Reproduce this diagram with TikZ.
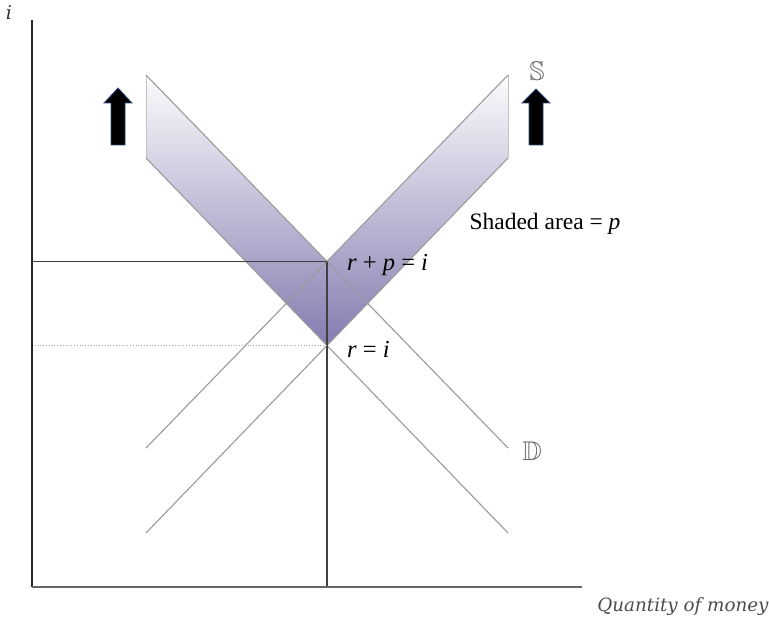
\documentclass[tikz,border=0pt]{standalone}
\usepackage{amssymb}
\usepackage{fontspec}
\setmainfont{Liberation Serif}
\newfontfamily\qfont{DejaVu Serif}
\definecolor{bandline}{HTML}{9A9A9A}
\definecolor{shadebot}{HTML}{867BB0}
\definecolor{shademid}{HTML}{D6D3E5}
\definecolor{shadetop}{HTML}{FCFCFD}
\definecolor{arrowedge}{HTML}{2E4A7A}
\tikzset{
  bandln/.style={draw=bandline, line width=1.1pt},
  axisln/.style={draw=black!85, line width=1.1pt},
  guideln/.style={draw=black!75, line width=1.1pt},
  dotln/.style={draw=black!35, line width=0.8pt, dotted},
  lbl/.style={inner sep=0pt, font=\fontsize{23.5}{26}\selectfont},
  rlbl/.style={inner sep=0pt, anchor=west, font=\fontsize{24.5}{27}\selectfont},
  bblbl/.style={inner sep=0pt, text=black!60, font=\fontsize{27}{30}\selectfont},
  bigarrow/.style={fill=black, draw=arrowedge, line width=0.8pt, line join=miter},
}
\begin{document}
\begin{tikzpicture}[x=1pt,y=-1pt]
\useasboundingbox (0,0) rectangle (769,623);
% coordinates
\coordinate (O) at (32,587);
\coordinate (Ytop) at (32,20);
\coordinate (Xend) at (582,587);
\coordinate (Dh1) at (146,75);
\coordinate (Dh2) at (508,448);
\coordinate (Dl1) at (146,158);
\coordinate (Dl2) at (508,533);
\coordinate (Sh1) at (146,448);
\coordinate (Sh2) at (508,75);
\coordinate (Sl1) at (146,533);
\coordinate (Sl2) at (508,158);
\coordinate (E1) at (327,261.5);
\coordinate (E0) at (327,345.5);
\coordinate (YE1) at (32,261.5);
\coordinate (YE0) at (32,345.5);
\coordinate (XE) at (327,587);
% shaded band
\shade[top color=shadetop, middle color=shademid, bottom color=shadebot]
  (Dh1) -- (E1) -- (Sh2) -- (Sl2) -- (E0) -- (Dl1) -- cycle;
\draw[draw=bandline!60, line width=0.8pt] (Dh1) -- (Dl1);
\draw[draw=bandline!60, line width=0.8pt] (Sh2) -- (Sl2);
% curves
\draw[bandln] (Dh1) -- (Dh2);
\draw[bandln] (Dl1) -- (Dl2);
\draw[bandln] (Sh1) -- (Sh2);
\draw[bandln] (Sl1) -- (Sl2);
% guides
\draw[guideln] (YE1) -- (E1);
\draw[guideln] (E1) -- (XE);
\draw[dotln] (YE0) -- (E0);
% axes
\draw[axisln] (Ytop) -- (O);
\draw[draw=black!60, line width=1.6pt] (O) -- (Xend);
% arrows
\draw[bigarrow] (118,88) -- (132,103) -- (125,103) -- (125,145) -- (111,145) -- (111,103) -- (104,103) -- cycle;
\draw[bigarrow] (536,89) -- (550,103) -- (543,103) -- (543,145) -- (529,145) -- (529,103) -- (522,103) -- cycle;
% labels
\node[inner sep=0pt, text=black!80, font=\qfont\itshape\fontsize{19}{21}\selectfont] (ilab) at (9,13) {i};
\node[bblbl] (Slab) at (537,71) {$\mathbb{S}$};
\node[bblbl] (Dlab) at (532,451) {$\mathbb{D}$};
\node[lbl] (shaded) at (545,224) {Shaded area = \textit{p}};
\node[rlbl] (rpi) at (347,265) {\textit{r} + \textit{p} = \textit{i}};
\node[rlbl] (ri) at (347,349) {\textit{r} = \textit{i}};
\node[inner sep=0pt, text=black!70, font=\qfont\itshape\fontsize{18.3}{21}\selectfont] (qty) at (683,607) {Quantity of money};
\end{tikzpicture}
\end{document}
